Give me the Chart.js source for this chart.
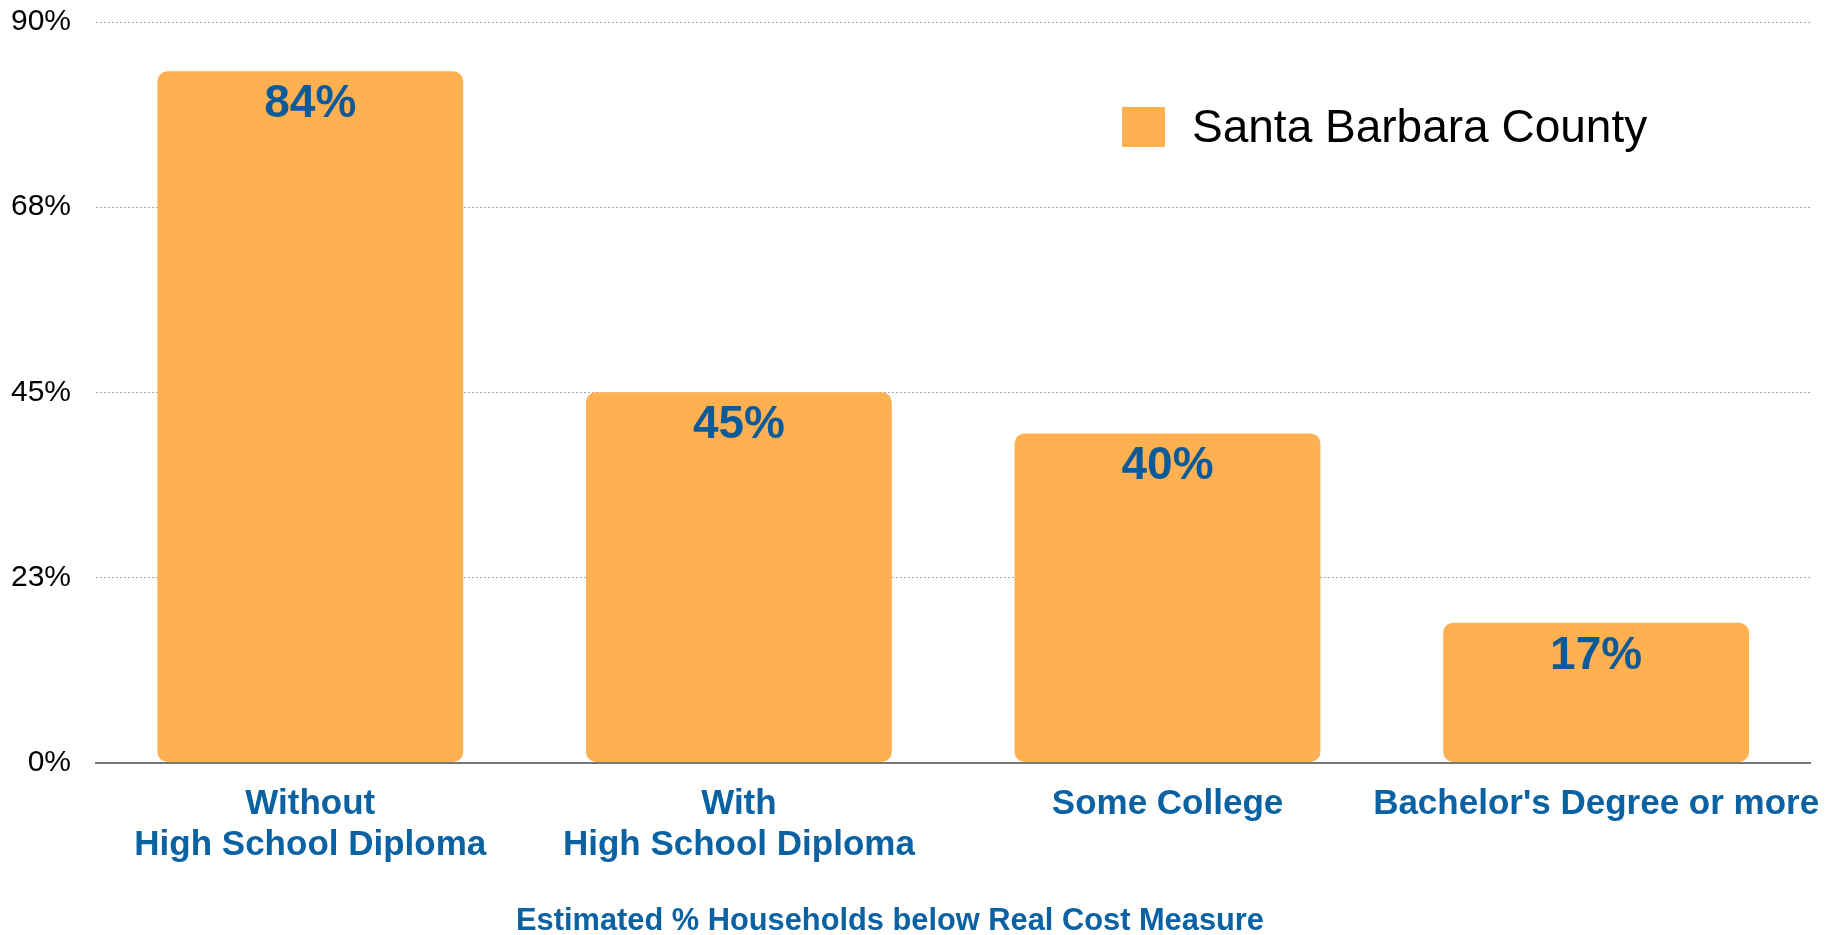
<!DOCTYPE html>
<html>
<head>
<meta charset="utf-8">
<title>Households below Real Cost Measure</title>
<script src="https://cdn.jsdelivr.net/npm/chart.js@4.4.0/dist/chart.umd.min.js"></script>
<style>
  html, body { margin: 0; padding: 0; background: #fff; }
  #wrap { width: 1845px; height: 935px; }
</style>
</head>
<body>
<div id="wrap"><canvas id="chart" width="1845" height="935"></canvas></div>
<script>
// data
const categories = [['Without', 'High School Diploma'], ['With', 'High School Diploma'], 'Some College', "Bachelor's Degree or more"];
const seriesName = 'Santa Barbara County';
const households = [84, 45, 40, 17];
const yTicks = [0, 22.5, 45, 67.5, 90];
const axisTitle = 'Estimated % Households below Real Cost Measure';

const FONT = '"Liberation Sans", Arial, sans-serif';
const ORANGE = '#ffb152';
const BLUE = '#0b62a2';
const LABEL_BLUE = '#0d5a98';

Chart.defaults.font.family = FONT;

// value labels inside the top of each bar
const valueLabels = {
    id: 'valueLabels',
    afterDatasetsDraw(chart) {
        const ctx = chart.ctx;
        const meta = chart.getDatasetMeta(0);
        ctx.save();
        ctx.font = 'bold 46px ' + FONT;
        ctx.fillStyle = LABEL_BLUE;
        ctx.textAlign = 'center';
        ctx.textBaseline = 'alphabetic';
        meta.data.forEach((bar, i) => {
            ctx.fillText(households[i] + '%', bar.x, bar.y + 46);
        });
        ctx.restore();
    }
};

// legend drawn inside the plot, plus the off-centre axis title
const overlay = {
    id: 'overlay',
    afterDraw(chart) {
        const ctx = chart.ctx;
        const ds = chart.data.datasets[0];
        ctx.save();
        ctx.fillStyle = ds.backgroundColor;
        ctx.fillRect(1122, 107, 43, 40);
        ctx.font = '46px ' + FONT;
        ctx.fillStyle = '#000';
        ctx.textAlign = 'left';
        ctx.textBaseline = 'alphabetic';
        ctx.fillText(ds.label, 1192, 142);

        ctx.font = 'bold 30.8px ' + FONT;
        ctx.fillStyle = BLUE;
        ctx.textAlign = 'center';
        ctx.fillText(axisTitle, 890, 930);
        ctx.restore();
    }
};

new Chart(document.getElementById('chart'), {
    type: 'bar',
    data: {
        labels: categories,
        datasets: [{
            label: seriesName,
            data: households,
            backgroundColor: ORANGE,
            borderRadius: 10,
            borderSkipped: false,
            categoryPercentage: 0.8,
            barPercentage: 0.892
        }]
    },
    options: {
        responsive: false,
        animation: false,
        devicePixelRatio: 1,
        layout: {
            padding: { top: 22, right: 31, bottom: 48, left: 0 }
        },
        plugins: {
            legend: { display: false },
            tooltip: { enabled: false }
        },
        scales: {
            x: {
                grid: { display: false, drawTicks: false },
                border: { display: true, color: '#777', width: 2 },
                ticks: {
                    color: BLUE,
                    font: { size: 35, weight: 'bold', lineHeight: 1.15 },
                    padding: 22,
                    maxRotation: 0,
                    minRotation: 0,
                    autoSkip: false
                }
            },
            y: {
                min: 0,
                max: 90,
                afterBuildTicks(scale) {
                    scale.ticks = yTicks.map(v => ({ value: v }));
                },
                afterFit(scale) {
                    scale.width = 96;
                    scale.paddingTop = 0;
                    scale.paddingBottom = 0;
                },
                grid: { color: '#a8a8a8', lineWidth: 1, drawTicks: false },
                border: { display: false, dash: [2, 2] },
                ticks: {
                    color: '#000',
                    font: { size: 30 },
                    padding: 25,
                    callback: v => Math.round(v) + '%'
                }
            }
        }
    },
    plugins: [valueLabels, overlay]
});
</script>
</body>
</html>
